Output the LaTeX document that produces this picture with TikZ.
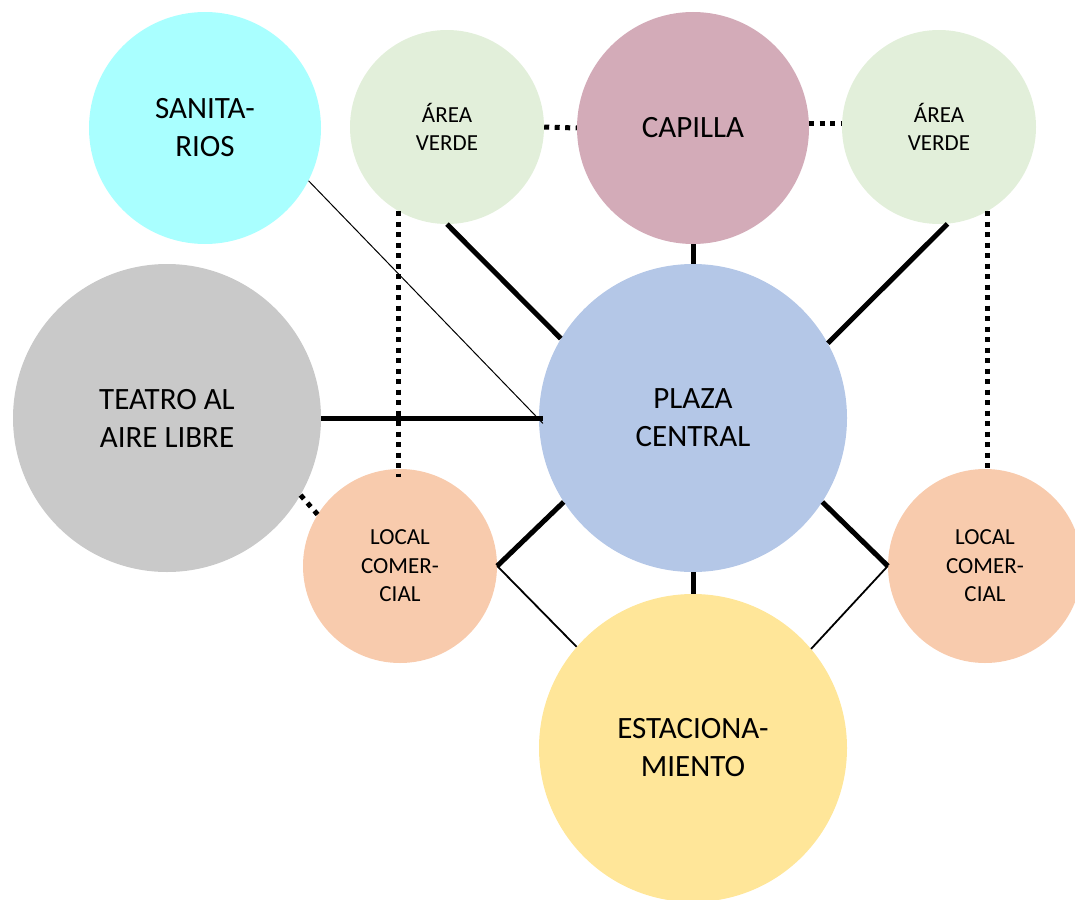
\documentclass[tikz,border=0pt]{standalone}
\usepackage{fontspec}
\setmainfont{Carlito}
\definecolor{csan}{HTML}{A9FFFF}
\definecolor{cav}{HTML}{E2EFDA}
\definecolor{ccap}{HTML}{D3ABB8}
\definecolor{ctea}{HTML}{C9C9C9}
\definecolor{cpla}{HTML}{B4C7E7}
\definecolor{cloc}{HTML}{F8CBAD}
\definecolor{cest}{HTML}{FFE699}
\tikzset{
  zone/.style={circle, inner sep=0pt, align=center, text=black},
  bigzone/.style={zone, minimum size=308pt, font=\fontsize{31}{38}\selectfont},
  midzone/.style={zone, minimum size=232pt, font=\fontsize{31}{38}\selectfont},
  smallzone/.style={zone, minimum size=194pt, font=\fontsize{23}{28.5}\selectfont},
  strong/.style={line width=5pt},
  weak/.style={line width=1.8pt},
  faint/.style={line width=1pt},
  dotline/.style={line width=5pt, dash pattern=on 5pt off 5.5pt},
}
\begin{document}
\begin{tikzpicture}[x=1pt, y=-1pt]
\useasboundingbox (0,0) rectangle (1075,899);
\clip (0,0) rectangle (1075,899);
% circles
\node[midzone, fill=csan] (san) at (205,128) {SANITA-\\RIOS};
\node[smallzone, fill=cav] (av1) at (447,127) {ÁREA\\VERDE};
\node[midzone, fill=ccap] (cap) at (693,128) {CAPILLA};
\node[smallzone, fill=cav] (av2) at (939,127) {ÁREA\\VERDE};
\node[bigzone, fill=ctea] (tea) at (167,418) {TEATRO AL\\AIRE LIBRE};
\node[bigzone, fill=cpla] (pla) at (693,418) {PLAZA\\CENTRAL};
\node[smallzone, fill=cloc] (lo1) at (400,566) {LOCAL\\COMER-\\CIAL};
\node[smallzone, fill=cloc] (lo2) at (985,566) {LOCAL\\COMER-\\CIAL};
\node[bigzone, fill=cest] (est) at (693,748) {ESTACIONA-\\MIENTO};
% helper coordinates
\coordinate (d1a) at (av1.-120);
\coordinate (d1b) at (d1a |- 0,477);
\coordinate (d2a) at (av2.-60.5);
\coordinate (d2b) at (d2a |- 0,473);
\coordinate (c2a) at ([yshift=5pt]cap.east);
\coordinate (c2b) at (av2.west |- c2a);
% dotted connectors
\draw[dotline] (av1.east) -- (cap.west);
\draw[dotline] (c2a) -- (c2b);
\draw[dotline] (d1a) -- (d1b);
\draw[dotline] (d2a) -- (d2b);
\draw[dotline] (tea.-30) -- (lo1.148);
% strong connectors
\draw[strong] (av1.-90) -- (pla.149);
\draw[strong] (av2.-85) -- (pla.29);
\draw[strong] (cap.south) -- (pla.north);
\draw[strong] (tea.east) -- ([xshift=4pt]pla.west);
\draw[strong] (pla.213.5) -- (lo1.east);
\draw[strong] (pla.-33) -- (lo2.west);
\draw[strong] (pla.south) -- (est.north);
% weak connectors
\draw[faint] (san.-27) -- ([xshift=4pt]pla.182);
\draw[weak] (lo1.east) -- (est.139);
\draw[weak] (lo2.west) -- (est.40.6);
\end{tikzpicture}
\end{document}
